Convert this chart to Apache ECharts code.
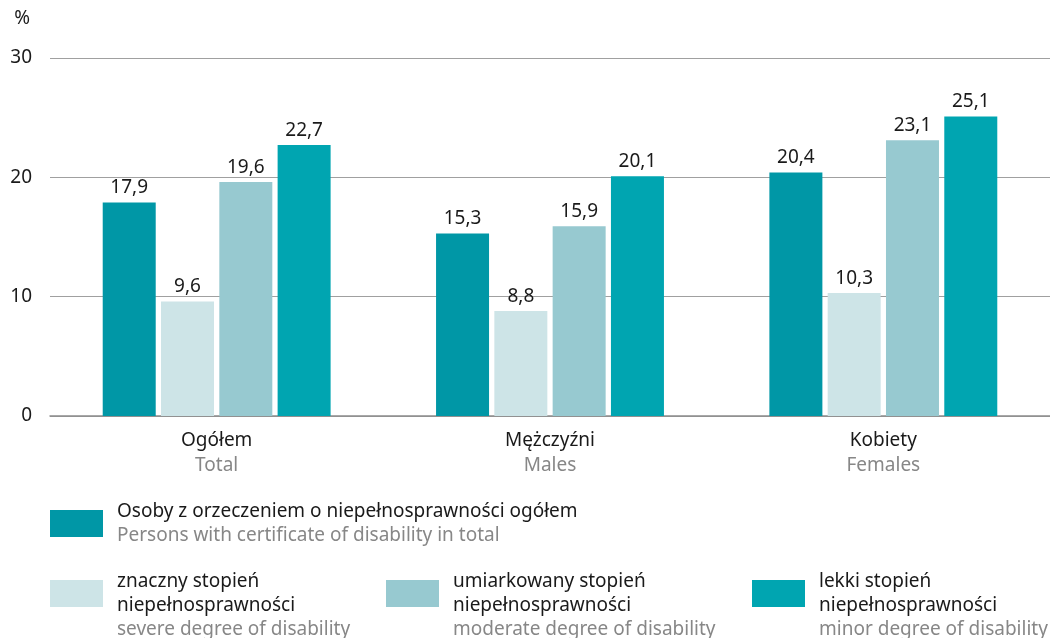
<!DOCTYPE html>
<html>
<head>
<meta charset="utf-8">
<script src="https://cdn.jsdelivr.net/npm/echarts@6/dist/echarts.min.js"></script>
<style>
  html, body { margin: 0; padding: 0; background: #fff; }
  #chart { width: 1050px; height: 638px; }
</style>
</head>
<body>
<div id="chart"></div>
<script>
// data
const categoriesPl = ['Ogółem', 'Mężczyźni', 'Kobiety']
const categoriesEn = ['Total', 'Males', 'Females']
const totalValues = [17.9, 15.3, 20.4]
const severeValues = [9.6, 8.8, 10.3]
const moderateValues = [19.6, 15.9, 23.1]
const minorValues = [22.7, 20.1, 25.1]
const yTicks = [0, 10, 20, 30]

const seriesPl = [
  'Osoby z orzeczeniem o niepełnosprawności ogółem',
  'znaczny stopień\nniepełnosprawności',
  'umiarkowany stopień\nniepełnosprawności',
  'lekki stopień\nniepełnosprawności'
]
const seriesEn = [
  'Persons with certificate of disability in total',
  'severe degree of disability',
  'moderate degree of disability',
  'minor degree of disability'
]
const colors = ['#0097a6', '#cde4e7', '#97c9d0', '#00a5b1']

const FONT = '"Noto Sans", sans-serif'
const FS = 19
const chart = echarts.init(document.getElementById('chart'))

const richText = {
  gap: { lineHeight: 24, fontSize: 1 },
  pl: { fontSize: FS, color: '#1a1a1a', lineHeight: 24, fontFamily: FONT },
  en: { fontSize: FS, color: '#878787', lineHeight: 24, fontFamily: FONT }
}

function legendText(name) {
  const i = seriesPl.indexOf(name)
  const parts = name.split('\n').map(s => '{pl|' + s + '}')
  const head = parts.length > 1 ? '{gap|}\n' : ''
  return head + parts.join('\n') + '\n{en|' + seriesEn[i] + '}'
}

function makeLegend(idx, left, top) {
  return {
    data: [seriesPl[idx]],
    left: left,
    top: top,
    orient: 'horizontal',
    itemWidth: 53,
    itemHeight: 27,
    itemGap: 0,
    icon: 'rect',
    selectedMode: false,
    padding: 0,
    formatter: legendText,
    textStyle: { rich: richText, padding: [0, 0, 0, 9] }
  }
}

const dataSets = [totalValues, severeValues, moderateValues, minorValues]
const series = dataSets.map((vals, i) => ({
  name: seriesPl[i],
  type: 'bar',
  data: vals,
  barWidth: 53,
  barGap: '10%',
  itemStyle: { color: colors[i] },
  label: {
    show: true,
    position: 'top',
    distance: 5,
    color: '#1a1a1a',
    fontSize: FS,
    fontFamily: FONT,
    formatter: p => String(p.value).replace('.', ',')
  }
}))

chart.setOption({
  animation: false,
  textStyle: { fontFamily: FONT },
  grid: { left: 50, right: 0, top: 58, bottom: 222, containLabel: false },
  legend: [
    makeLegend(0, 50, 502),
    makeLegend(1, 50, 557),
    makeLegend(2, 386, 557),
    makeLegend(3, 752, 557)
  ],
  xAxis: {
    type: 'category',
    data: categoriesPl,
    axisTick: { show: false },
    axisLine: { lineStyle: { color: '#8c8c8c', width: 1.5 } },
    axisLabel: {
      margin: 12,
      formatter: (v, i) => '{pl|' + v + '}\n{en|' + categoriesEn[i] + '}',
      rich: {
        pl: { fontSize: FS, color: '#1a1a1a', lineHeight: 25, fontFamily: FONT },
        en: { fontSize: FS, color: '#878787', lineHeight: 25, fontFamily: FONT }
      }
    }
  },
  yAxis: {
    type: 'value',
    min: yTicks[0],
    max: yTicks[yTicks.length - 1],
    interval: 10,
    name: '%',
    nameLocation: 'end',
    nameGap: 30,
    nameTextStyle: { color: '#1a1a1a', fontSize: FS, align: 'right', padding: [0, 20, 0, 0] },
    axisLine: { show: false },
    axisTick: { show: false },
    axisLabel: { color: '#1a1a1a', fontSize: FS, margin: 18 },
    splitLine: { lineStyle: { color: '#a0a0a0', width: 1.2 } }
  },
  series: series
})
</script>
</body>
</html>
